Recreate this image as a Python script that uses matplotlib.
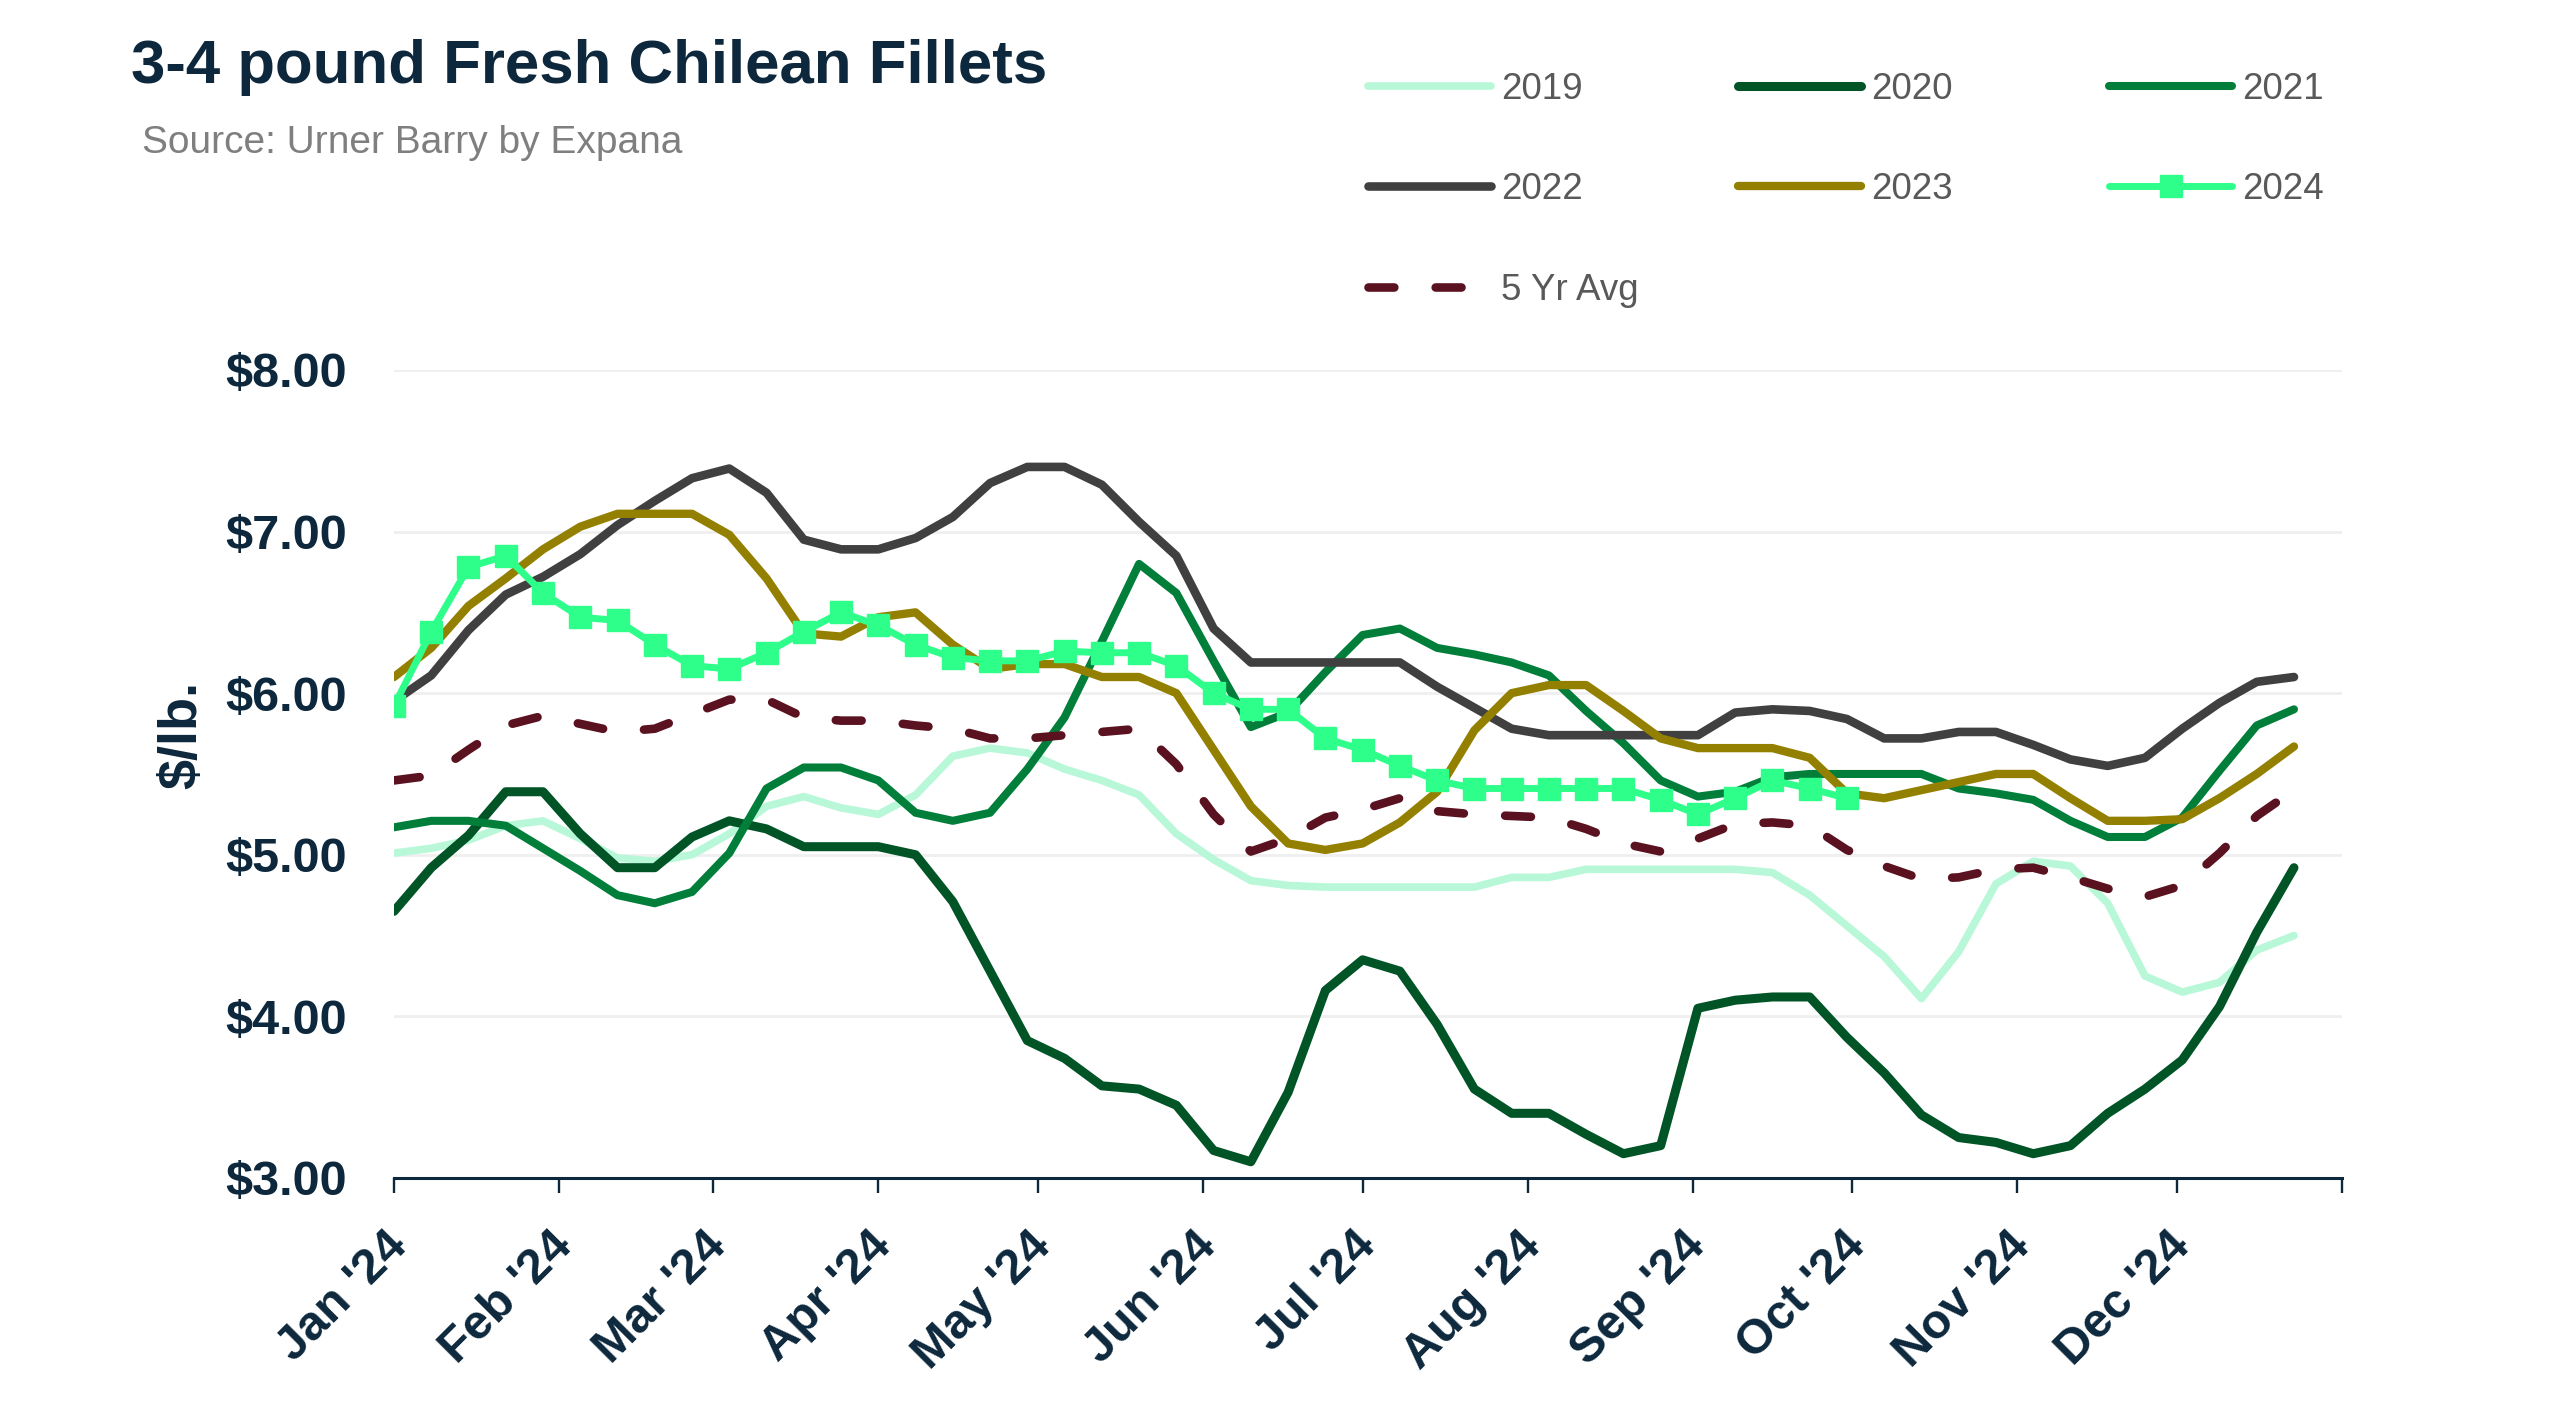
import matplotlib
matplotlib.use("Agg")
import matplotlib.pyplot as plt
import matplotlib.dates as mdates
import matplotlib.ticker as mticker
from matplotlib.transforms import ScaledTranslation
import pandas as pd

plt.rcParams['font.family'] = ['Liberation Sans', 'DejaVu Sans']

# weekly prices ($/lb), Mondays of 2024
weeks = pd.date_range('2024-01-01', periods=52, freq='7D')

y2019 = [5.01, 5.04, 5.09, 5.18, 5.21, 5.10, 4.98, 4.96, 5.00, 5.13,
         5.30, 5.36, 5.29, 5.25, 5.37, 5.61, 5.66, 5.63, 5.53, 5.46,
         5.37, 5.13, 4.97, 4.84, 4.81, 4.80, 4.80, 4.80, 4.80, 4.80,
         4.86, 4.86, 4.91, 4.91, 4.91, 4.91, 4.91, 4.89, 4.75, 4.56,
         4.37, 4.11, 4.40, 4.82, 4.96, 4.93, 4.70, 4.25, 4.15, 4.21,
         4.41, 4.50]
y2020 = [4.65, 4.92, 5.12, 5.39, 5.39, 5.13, 4.92, 4.92, 5.11, 5.21,
         5.16, 5.05, 5.05, 5.05, 5.00, 4.71, 4.28, 3.85, 3.74, 3.57,
         3.55, 3.45, 3.17, 3.10, 3.53, 4.16, 4.35, 4.28, 3.95, 3.55,
         3.40, 3.40, 3.27, 3.15, 3.20, 4.05, 4.10, 4.12, 4.12, 3.87,
         3.65, 3.39, 3.25, 3.22, 3.15, 3.20, 3.40, 3.55, 3.73, 4.06,
         4.52, 4.92]
y2021 = [5.17, 5.21, 5.21, 5.18, 5.04, 4.90, 4.75, 4.70, 4.77, 5.01,
         5.41, 5.54, 5.54, 5.46, 5.26, 5.21, 5.26, 5.53, 5.85, 6.32,
         6.80, 6.62, 6.20, 5.79, 5.88, 6.13, 6.36, 6.40, 6.28, 6.24,
         6.19, 6.11, 5.89, 5.69, 5.46, 5.36, 5.39, 5.48, 5.50, 5.50,
         5.50, 5.50, 5.41, 5.38, 5.34, 5.21, 5.11, 5.11, 5.23, 5.52,
         5.80, 5.90]
y2022 = [5.95, 6.11, 6.39, 6.61, 6.72, 6.86, 7.04, 7.19, 7.33, 7.39,
         7.24, 6.95, 6.89, 6.89, 6.96, 7.09, 7.30, 7.40, 7.40, 7.29,
         7.06, 6.85, 6.40, 6.19, 6.19, 6.19, 6.19, 6.19, 6.04, 5.91,
         5.78, 5.74, 5.74, 5.74, 5.74, 5.74, 5.88, 5.90, 5.89, 5.84,
         5.72, 5.72, 5.76, 5.76, 5.68, 5.59, 5.55, 5.60, 5.78, 5.94,
         6.07, 6.10]
y2023 = [6.10, 6.28, 6.54, 6.71, 6.89, 7.03, 7.11, 7.11, 7.11, 6.98,
         6.71, 6.37, 6.35, 6.47, 6.50, 6.30, 6.15, 6.18, 6.18, 6.10,
         6.10, 6.00, 5.65, 5.30, 5.07, 5.03, 5.07, 5.20, 5.39, 5.77,
         6.00, 6.05, 6.05, 5.89, 5.72, 5.66, 5.66, 5.66, 5.60, 5.38,
         5.35, 5.40, 5.45, 5.50, 5.50, 5.35, 5.21, 5.21, 5.22, 5.35,
         5.50, 5.67]
y2024 = [5.92, 6.38, 6.78, 6.85, 6.62, 6.47, 6.45, 6.30, 6.17, 6.15,
         6.25, 6.38, 6.50, 6.42, 6.30, 6.22, 6.20, 6.20, 6.26, 6.25,
         6.25, 6.17, 6.00, 5.90, 5.90, 5.72, 5.65, 5.55, 5.46, 5.41,
         5.41, 5.41, 5.41, 5.41, 5.34, 5.25, 5.35, 5.46, 5.41, 5.35]
y_avg = [5.46, 5.49, 5.65, 5.80, 5.86, 5.81, 5.76, 5.78, 5.87, 5.96,
         5.96, 5.85, 5.83, 5.83, 5.80, 5.78, 5.72, 5.72, 5.74, 5.76,
         5.78, 5.56, 5.25, 5.02, 5.10, 5.23, 5.28, 5.35, 5.27, 5.25,
         5.24, 5.23, 5.16, 5.07, 5.02, 5.10, 5.19, 5.20, 5.18, 5.03,
         4.93, 4.85, 4.86, 4.91, 4.92, 4.86, 4.79, 4.74, 4.81, 5.01,
         5.24, 5.40]

navy = '#0D283C'

fig = plt.figure(figsize=(25.6, 14.03), dpi=100)
ax = fig.add_axes([0.1539, 0.1604, 0.7609, 0.5759])

common = dict(solid_capstyle='round', solid_joinstyle='round')
l19, = ax.plot(weeks, y2019, color='#B8F8D8', lw=5.5, label='2019', **common)
l20, = ax.plot(weeks, y2020, color='#005426', lw=6.5, label='2020', **common)
l21, = ax.plot(weeks, y2021, color='#007E3A', lw=5.8, label='2021', **common)
l22, = ax.plot(weeks, y2022, color='#404040', lw=6.2, label='2022', **common)
l23, = ax.plot(weeks, y2023, color='#948000', lw=6.0, label='2023', **common)
lavg, = ax.plot(weeks, y_avg, color='#5A1220', lw=6.2, ls=(0, (3.0, 4.8)),
                dash_capstyle='round', label='5 Yr Avg')
l24, = ax.plot(weeks[:len(y2024)], y2024, color='#2EFF8A', lw=5.0,
               marker='s', markersize=16, label='2024', **common)

ax.set_xlim(pd.Timestamp('2024-01-01'), pd.Timestamp('2025-01-01'))
ax.set_ylim(3, 8)
ax.yaxis.set_major_locator(mticker.MultipleLocator(1))
ax.yaxis.set_major_formatter(mticker.FuncFormatter(lambda v, p: f'${v:.2f}'))
ax.xaxis.set_major_locator(mdates.MonthLocator())


def month_label(v, p):
    d = mdates.num2date(v)
    return d.strftime("%b '%y") if d.year == 2024 else ''


ax.xaxis.set_major_formatter(mticker.FuncFormatter(month_label))

for s in ['top', 'right', 'left']:
    ax.spines[s].set_visible(False)
ax.spines['bottom'].set_color(navy)
ax.spines['bottom'].set_linewidth(2.2)
ax.yaxis.grid(True, color='#EFEFEF', lw=2)
ax.set_axisbelow(True)

ax.tick_params(axis='y', length=0, pad=34, labelsize=35, labelcolor=navy)
ax.tick_params(axis='x', length=11, width=1.7, color=navy, pad=33,
               labelsize=35, labelcolor=navy)
for lbl in ax.get_yticklabels():
    lbl.set_fontweight('bold')
shift = ScaledTranslation(0.06, 0, fig.dpi_scale_trans)
for lbl in ax.get_xticklabels():
    lbl.set_fontweight('bold')
    lbl.set_rotation(45)
    lbl.set_ha('right')
    lbl.set_va('center')
    lbl.set_rotation_mode('anchor')
    lbl.set_transform(lbl.get_transform() + shift)

ax.set_ylabel('$/lb.', fontsize=39, fontweight='bold', color=navy)
ax.yaxis.set_label_coords(-0.096, 0.548)

fig.text(131 / 2560, 1 - 83 / 1403, '3-4 pound Fresh Chilean Fillets',
         fontsize=44.5, fontweight='bold', color=navy, va='baseline')
fig.text(142 / 2560, 1 - 153 / 1403, 'Source: Urner Barry by Expana',
         fontsize=28, color='#7F7F7F', va='baseline')

leg_kw = dict(loc='upper left', frameon=False, fontsize=26.5, labelcolor='#595959',
              handlelength=3.35, handletextpad=0.27, labelspacing=1.78,
              borderpad=0, borderaxespad=0, numpoints=1)
for handles, x in [([l19, l22, lavg], 1368), ([l20, l23], 1738), ([l21, l24], 2109)]:
    fig.legend(handles=handles, bbox_to_anchor=(x / 2560, 0.949), **leg_kw)

fig.savefig('out.png', dpi=100)
